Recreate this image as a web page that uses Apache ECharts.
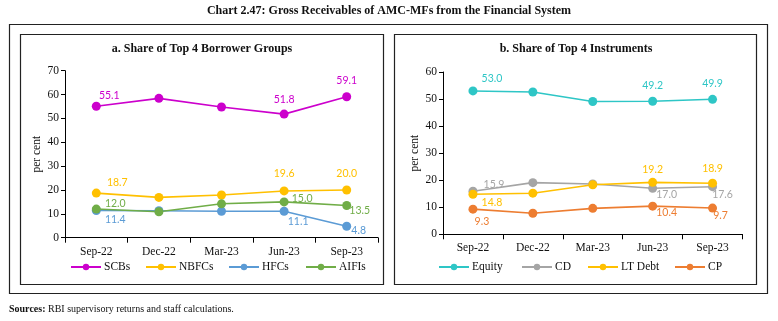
<!DOCTYPE html>
<html><head><meta charset="utf-8">
<script src="https://cdn.jsdelivr.net/npm/echarts@6/dist/echarts.min.js"></script>
<style>html,body{margin:0;padding:0;background:#fff}#c{width:778px;height:321px}</style>
</head><body><div id="c"></div>
<script>
const categories = ['Sep-22','Dec-22','Mar-23','Jun-23','Sep-23'];
// Panel a
const scbs  = [55.1, 58.4, 54.8, 51.8, 59.1];
const nbfcs = [18.7, 16.9, 17.9, 19.6, 20.0];
const hfcs  = [11.4, 11.3, 11.1, 11.1, 4.8];
const aifis = [12.0, 10.9, 14.2, 15.0, 13.5];
// Panel b
const equity = [53.0, 52.6, 49.1, 49.2, 49.9];
const cd     = [15.9, 19.1, 18.6, 17.0, 17.6];
const ltDebt = [14.8, 15.2, 18.3, 19.2, 18.9];
const cp     = [9.3, 7.8, 9.6, 10.4, 9.7];
const leftTicks = [0,10,20,30,40,50,60,70];
const rightTicks = [0,10,20,30,40,50,60];
const leftNames = ['SCBs','NBFCs','HFCs','AIFIs'];
const rightNames = ['Equity','CD','LT Debt','CP'];

const serif = '"Liberation Serif", "DejaVu Serif", serif';
const sans = 'Lato, "Liberation Sans", sans-serif';

// label placement: index -> [dx, dy] offset of label centre from the marker
function mk(name, data, color, grid, labels) {
  return {
    name, type: 'line', xAxisIndex: grid, yAxisIndex: grid,
    data: data.map((v, i) => {
      const l = labels[i];
      if (!l) return { value: v, label: { show: false } };
      return { value: v, label: { show: true, position: 'inside', offset: l,
        formatter: v.toFixed(1), color, fontFamily: sans, fontSize: 10.5 } };
    }),
    symbol: 'circle', symbolSize: 9,
    lineStyle: { color, width: 1.6 }, itemStyle: { color },
    emphasis: { disabled: true }, animation: false
  };
}

const chart = echarts.init(document.getElementById('c'), null, { renderer: 'canvas' });
const xAx = (g) => ({
  type: 'category', gridIndex: g, data: categories, boundaryGap: true,
  axisLine: { lineStyle: { color: '#000', width: 1 } },
  axisTick: { show: true, inside: false, length: 5, alignWithLabel: false, lineStyle: { color: '#000' } },
  axisLabel: { color: '#111', fontFamily: serif, fontSize: 11.5, margin: 8 },
  splitLine: { show: false }
});
const yAx = (g, ticks) => ({
  type: 'value', gridIndex: g, min: ticks[0], max: ticks[ticks.length - 1], interval: ticks[1] - ticks[0],
  name: 'per cent', nameLocation: 'middle', nameGap: 22, nameRotate: 90,
  nameTextStyle: { color: '#111', fontFamily: serif, fontSize: 11.5 },
  axisLine: { show: true, lineStyle: { color: '#000', width: 1 } },
  axisTick: { show: true, length: 4, lineStyle: { color: '#000' } },
  axisLabel: { color: '#111', fontFamily: serif, fontSize: 11.5, margin: 6 },
  splitLine: { show: false }
});
const legendLefts = [70, 145, 228, 305, 438, 521, 587, 674];
const legends = leftNames.concat(rightNames).map((n, i) => ({
  data: [n], left: legendLefts[i], top: 261, padding: 0,
  itemWidth: 30, itemHeight: 8, itemGap: 0,
  textStyle: { color: '#111', fontFamily: serif, fontSize: 11.5, padding: [0, 0, 0, -2] }
}));

chart.setOption({
  animation: false,
  grid: [
    { left: 65, right: 400, top: 70.7, bottom: 83.3 },
    { left: 443, right: 35.5, top: 72, bottom: 86.7 }
  ],
  xAxis: [xAx(0), xAx(1)],
  yAxis: [yAx(0, leftTicks), yAx(1, rightTicks)],
  legend: legends,
  graphic: [
    { type: 'rect', shape: { x: 9.5, y: 24.5, width: 758, height: 269 }, style: { fill: 'none', stroke: '#222', lineWidth: 1.2 } },
    { type: 'rect', shape: { x: 20.5, y: 34.5, width: 363, height: 250 }, style: { fill: 'none', stroke: '#222', lineWidth: 1.2 } },
    { type: 'rect', shape: { x: 394.5, y: 34.5, width: 362, height: 250 }, style: { fill: 'none', stroke: '#222', lineWidth: 1.2 } },
    { type: 'text', x: 389, y: 11, style: { text: 'Chart 2.47: Gross Receivables of AMC-MFs from the Financial System', fill: '#111', font: 'bold 12px ' + serif, textAlign: 'center', textVerticalAlign: 'middle' } },
    { type: 'text', x: 202, y: 49, style: { text: 'a. Share of Top 4 Borrower Groups', fill: '#111', font: 'bold 12px ' + serif, textAlign: 'center', textVerticalAlign: 'middle' } },
    { type: 'text', x: 576, y: 49, style: { text: 'b. Share of Top 4 Instruments', fill: '#111', font: 'bold 12px ' + serif, textAlign: 'center', textVerticalAlign: 'middle' } },
    { type: 'text', x: 9, y: 309, style: { rich: { b: { font: 'bold 10px ' + serif, fill: '#111' }, n: { font: '10px ' + serif, fill: '#111' } }, text: '{b|Sources:}{n| RBI supervisory returns and staff calculations.}', textVerticalAlign: 'middle' } }
  ],
  series: [
    mk('SCBs', scbs, '#CC00CC', 0, { 0: [13, -11], 3: [0, -15], 4: [0, -16] }),
    mk('NBFCs', nbfcs, '#FFC000', 0, { 0: [21, -10], 3: [0, -17], 4: [0, -16] }),
    mk('HFCs', hfcs, '#5B9BD5', 0, { 0: [19, 9], 3: [14, 10], 4: [12, 4] }),
    mk('AIFIs', aifis, '#70AD47', 0, { 0: [19, -5], 3: [18, -3], 4: [13, 5.5] }),
    mk('Equity', equity, '#2EC6C6', 1, { 0: [19, -12], 3: [0, -16], 4: [0, -16] }),
    mk('CD', cd, '#A5A5A5', 1, { 0: [21, -7], 3: [14, 6], 4: [10, 8] }),
    mk('LT Debt', ltDebt, '#FFC000', 1, { 0: [19, 8], 3: [0, -13], 4: [0, -15] }),
    mk('CP', cp, '#ED7D31', 1, { 0: [9, 12], 3: [14, 6], 4: [8, 8] })
  ]
});
</script></body></html>
